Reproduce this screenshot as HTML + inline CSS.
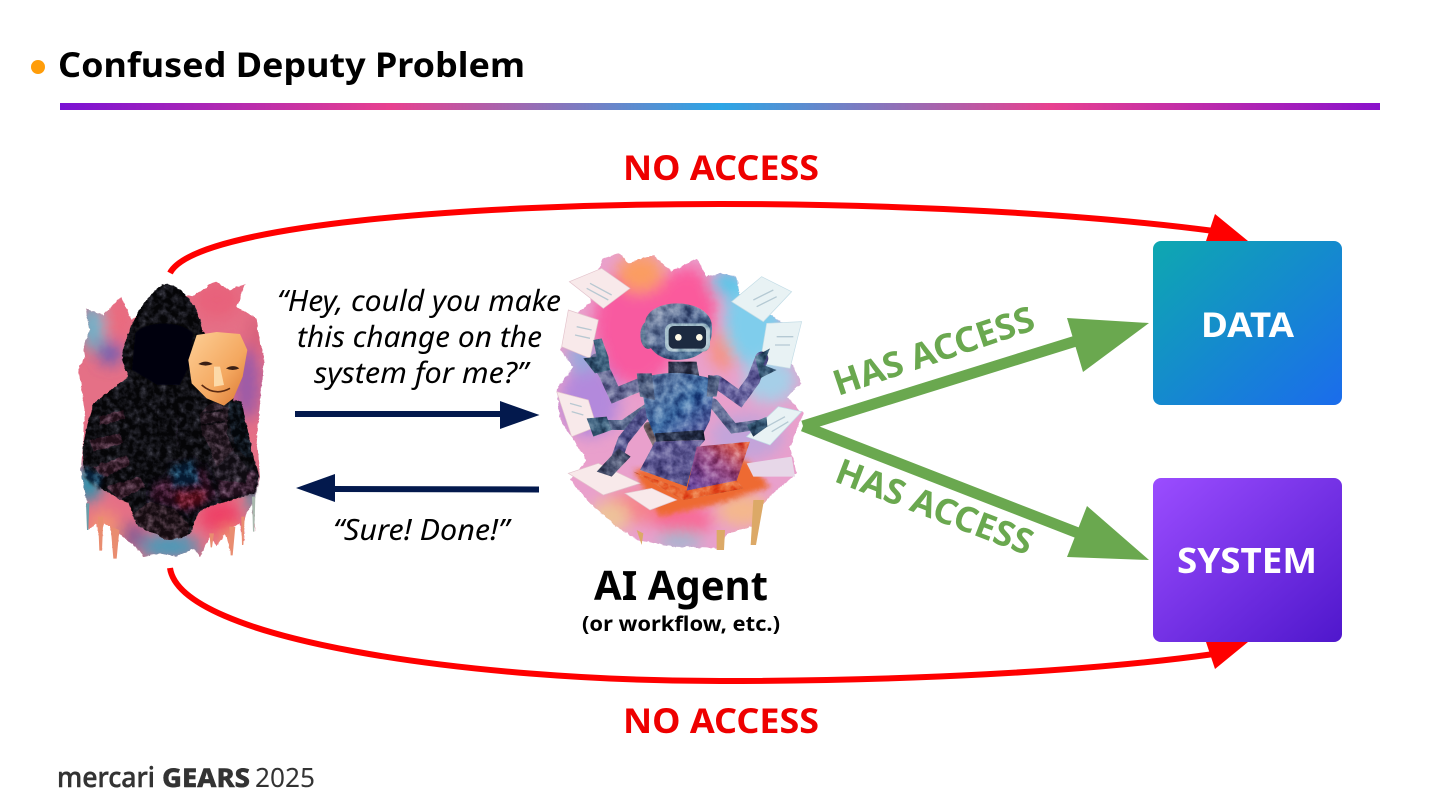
<!DOCTYPE html>
<html><head><meta charset="utf-8"><title>Confused Deputy Problem</title>
<style>
html,body{margin:0;padding:0;background:#fff;width:1440px;height:810px;overflow:hidden}
svg{display:block}
text{font-family:"Noto Sans","Noto Sans CJK JP","Liberation Sans",sans-serif}
</style></head><body>
<svg width="1440" height="810" viewBox="0 0 1440 810" xmlns="http://www.w3.org/2000/svg">
<defs>
<linearGradient id="bar" x1="0" x2="1" y1="0" y2="0">
<stop offset="0" stop-color="#7a12d4"/><stop offset=".25" stop-color="#e8408f"/><stop offset=".5" stop-color="#2ba6e6"/><stop offset=".75" stop-color="#e8408f"/><stop offset="1" stop-color="#8a12cc"/>
</linearGradient>
<linearGradient id="gd" x1="0" y1="0" x2="1" y2="1"><stop offset="0" stop-color="#0ea8b0"/><stop offset="1" stop-color="#1b6cec"/></linearGradient>
<linearGradient id="gs" x1="0" y1="0" x2="1" y2="1"><stop offset="0" stop-color="#9b4dff"/><stop offset="1" stop-color="#4f17cc"/></linearGradient>
<linearGradient id="mask" x1="0" y1="0" x2="1" y2="1"><stop offset="0" stop-color="#fdcf96"/><stop offset=".6" stop-color="#f4a860"/><stop offset="1" stop-color="#d9742f"/></linearGradient>
<linearGradient id="head" x1="0" y1="0" x2="1" y2="1"><stop offset="0" stop-color="#7d8aa4"/><stop offset=".5" stop-color="#5a6f97"/><stop offset="1" stop-color="#4a7b9c"/></linearGradient>
<linearGradient id="torso" x1="0" y1="0" x2="1" y2="1"><stop offset="0" stop-color="#6d7fa4"/><stop offset=".55" stop-color="#3f6ea6"/><stop offset="1" stop-color="#584f96"/></linearGradient>
<linearGradient id="laptop" x1="0" y1="1" x2="1" y2="0"><stop offset="0" stop-color="#6a4ea8"/><stop offset=".55" stop-color="#a04f86"/><stop offset="1" stop-color="#ee5a2e"/></linearGradient>
<filter id="rough" x="-10%" y="-10%" width="120%" height="120%"><feTurbulence type="fractalNoise" baseFrequency=".06" numOctaves="3" seed="8"/><feDisplacementMap in="SourceGraphic" scale="10" xChannelSelector="R" yChannelSelector="G"/></filter>
<filter id="b25" x="-30%" y="-30%" width="160%" height="160%"><feGaussianBlur stdDeviation="22"/></filter>
<filter id="s8" x="-30%" y="-30%" width="160%" height="160%"><feGaussianBlur stdDeviation="8"/></filter>
<filter id="s5" x="-30%" y="-30%" width="160%" height="160%"><feGaussianBlur stdDeviation="5"/></filter>
<filter id="s2" x="-30%" y="-30%" width="160%" height="160%"><feGaussianBlur stdDeviation="2"/></filter>
<filter id="mottle" x="0" y="0" width="100%" height="100%" color-interpolation-filters="sRGB">
<feTurbulence type="fractalNoise" baseFrequency=".035" numOctaves="4" seed="3"/>
<feColorMatrix type="matrix" values="1.4 0 0 0 -.2  1.4 0 0 0 -.2  1.4 0 0 0 -.2  0 0 0 0 1" result="n"/>
<feBlend in="n" in2="SourceGraphic" mode="soft-light" result="o"/>
<feComposite in="o" in2="SourceAlpha" operator="in"/>
</filter>
<filter id="mottleD" x="0" y="0" width="100%" height="100%" color-interpolation-filters="sRGB">
<feTurbulence type="fractalNoise" baseFrequency=".05" numOctaves="4" seed="3"/>
<feColorMatrix type="matrix" values="1.6 0 0 0 -.62  1.6 0 0 0 -.62  1.6 0 0 0 -.62  0 0 0 0 1" result="n"/>
<feBlend in="n" in2="SourceGraphic" mode="soft-light" result="o"/>
<feComposite in="o" in2="SourceAlpha" operator="in"/>
</filter>
<clipPath id="pClip"><path d="M75 115 L130 135 L185 80 L215 150 L320 60 L395 80 L465 35 L510 60 L555 40 L530 110 L590 145 L600 220 L612 260 L600 400 L590 520 L600 620 L582 700 L585 785 L575 700 L555 740 L550 825 L540 760 L520 770 L515 855 L495 790 L470 830 L450 800 L420 860 L400 835 L350 860 L300 850 L250 860 L225 830 L178 790 L165 865 L150 770 L130 760 L125 840 L110 760 L85 780 L80 700 L62 600 L70 520 L75 420 L55 300 L75 260 L70 230 L90 180Z"/></clipPath>
<clipPath id="rClip"><path d="M190 55 L240 40 L265 70 L340 45 L395 95 L470 55 L500 110 L540 100 L590 110 L600 170 L700 230 L740 260 L745 350 L785 430 L740 470 L790 520 L750 620 L770 700 L700 760 L670 790 L640 860 L560 880 L540 925 L400 920 L290 900 L230 860 L150 790 L90 720 L140 660 L60 540 L50 450 L100 380 L60 330 L110 220 L150 190 L170 100Z"/></clipPath>
</defs>

<!-- Header -->
<circle cx="38" cy="67" r="7" fill="#ff9d0a"/>
<text x="58" y="77" font-size="34" font-weight="700" fill="#000" textLength="467" lengthAdjust="spacingAndGlyphs">Confused Deputy Problem</text>
<rect x="60" y="103" width="1320" height="7" fill="url(#bar)"/>

<!-- Person illustration -->
<g transform="translate(60,270) scale(.33333)">
<g filter="url(#rough)"><g clip-path="url(#pClip)">
<rect x="40" y="20" width="600" height="860" fill="#e56f86"/>
<g filter="url(#b25)">
<ellipse cx="100" cy="170" rx="35" ry="70" fill="#66b5cc"/>
<ellipse cx="150" cy="250" rx="35" ry="35" fill="#6a5cb4"/>
<ellipse cx="170" cy="150" rx="40" ry="60" fill="#ea6a7e"/>
<ellipse cx="470" cy="90" rx="70" ry="55" fill="#e8627a"/>
<ellipse cx="560" cy="340" rx="40" ry="110" fill="#9a5aa8"/>
<ellipse cx="590" cy="200" rx="25" ry="60" fill="#d6607a"/>
<ellipse cx="85" cy="640" rx="40" ry="60" fill="#2f93ad"/>
<ellipse cx="130" cy="790" rx="50" ry="70" fill="#f19272"/>
<ellipse cx="220" cy="800" rx="40" ry="40" fill="#8a5a92"/>
<ellipse cx="330" cy="830" rx="90" ry="40" fill="#4c9ab8"/>
<ellipse cx="480" cy="740" rx="60" ry="50" fill="#ee3f66"/>
<ellipse cx="510" cy="820" rx="30" ry="50" fill="#ee9a70"/>
<ellipse cx="580" cy="680" rx="20" ry="70" fill="#4d94a8"/>
</g>
</g></g>
<g fill="#e98d70">
<path d="M114 740 L130 740 L126 842 L118 842Z M152 770 L178 780 L170 866 L160 866Z M508 770 L526 770 L518 856 L512 856Z M544 740 L554 740 L550 825 L546 825Z M448 790 L462 790 L456 832 L452 832Z"/></g>
<path d="M78 700 L88 700 L85 780 L81 780Z" fill="#6a9ca8"/><path d="M576 680 L586 680 L583 785 L579 785Z" fill="#a9b9ae"/>
<g filter="url(#mottleD)">
<g filter="url(#rough)">
<path d="M320 40 C 370 50 415 110 428 180 L470 240 L520 390 L545 395 L580 560 L598 620 L585 670 L480 700 L420 720 L390 790 L320 808 L235 770 L205 700 L130 660 L72 600 L68 540 L78 480 L100 400 L180 340 L205 320 L185 270 C 195 180 260 60 320 40Z" fill="#22202c"/>
<path d="M90 510 L180 490 L190 520 L100 545Z M100 590 L200 555 L210 585 L125 625Z M140 650 L240 620 L255 650 L180 690Z M120 440 L190 420 L195 445 L120 465Z" fill="#5a3b4e"/>
<path d="M280 640 L430 590 L470 680 L390 730 L270 690Z" fill="#5c2f4e" filter="url(#s8)"/>
<path d="M330 590 L400 570 L420 640 L340 650Z" fill="#24506e" filter="url(#s8)"/>
<path d="M340 670 L440 660 L430 700 L360 715Z" fill="#8a2f44" filter="url(#s8)"/>
<path d="M70 590 L130 620 L120 660 L72 620Z" fill="#2b5a78" filter="url(#s5)"/>
<path d="M470 620 L590 600 L585 670 L480 690Z" fill="#5a3a52" filter="url(#s5)"/>
<path d="M215 735 L270 695 L350 720 L390 770 L380 800 L320 810 L240 770Z" fill="#4a3540"/>
<path d="M505 395 L545 398 L578 570 L530 540 L510 470Z" fill="#1e2532"/>
<path d="M445 570 L510 530 L560 590 L560 640 L470 630Z" fill="#3d3642"/>
<path d="M420 430 L460 395 L505 415 L500 490 L520 540 L470 590 L445 520 L425 490Z" fill="#4e3a48"/>
<path d="M430 430 L490 420 M425 465 L495 455" stroke="#241d28" stroke-width="6" fill="none"/>
<path d="M290 410 L293 500 M355 420 L355 530" stroke="#14121a" stroke-width="5" fill="none"/>
</g></g>
<path d="M225 190 C 250 150 370 150 400 190 L388 290 L360 345 L290 345 L215 300Z" fill="#050407" filter="url(#s2)"/>
<path d="M410 195 L470 186 L540 192 L562 240 L548 320 L520 385 L492 407 L440 385 L395 340 L385 270Z" fill="url(#mask)"/>
<path d="M462 290 L480 290 L492 345 L462 350Z" fill="#fcd9a8"/>
<path d="M415 282 Q437 268 458 282 Q437 292 415 282Z M498 295 Q520 282 538 295 Q518 305 498 295Z" fill="#3a1f14"/>
<path d="M425 345 Q465 380 510 355" stroke="#5b2a12" stroke-width="5" fill="none"/>
</g>

<!-- Robot illustration -->
<g transform="translate(540,240) scale(.33333)">
<g filter="url(#rough)"><g clip-path="url(#rClip)">
<rect x="30" y="20" width="780" height="920" fill="#e9a0cc"/>
<g filter="url(#b25)">
<ellipse cx="290" cy="260" rx="130" ry="180" fill="#f85aa0"/>
<ellipse cx="440" cy="200" rx="90" ry="120" fill="#fb5a9c"/>
<ellipse cx="300" cy="100" rx="70" ry="60" fill="#fb9d62"/>
<ellipse cx="550" cy="330" rx="40" ry="60" fill="#f8907c"/>
<ellipse cx="640" cy="240" rx="90" ry="140" fill="#7fcdec"/>
<ellipse cx="560" cy="130" rx="50" ry="40" fill="#5cc6e8"/>
<ellipse cx="690" cy="420" rx="80" ry="70" fill="#a6cfe8"/>
<ellipse cx="150" cy="480" rx="90" ry="110" fill="#b389dc"/>
<ellipse cx="130" cy="350" rx="50" ry="50" fill="#98a8dc"/>
<ellipse cx="620" cy="590" rx="110" ry="70" fill="#c3a4da"/>
<ellipse cx="300" cy="800" rx="120" ry="50" fill="#f5828e"/>
<ellipse cx="430" cy="840" rx="90" ry="50" fill="#f86a98"/>
<ellipse cx="210" cy="830" rx="60" ry="50" fill="#eec39a"/>
<ellipse cx="610" cy="810" rx="80" ry="50" fill="#f4b88c"/>
<ellipse cx="420" cy="900" rx="70" ry="25" fill="#96bcd4"/>
</g>
<path d="M280 690 L620 660 L690 740 L540 790 L360 830Z" fill="#ee6a30" filter="url(#s8)"/>
</g></g>
<g fill="#dca967">
<path d="M640 780 L672 780 L648 915 L632 915Z"/><path d="M530 870 L555 870 L552 930 L530 930Z"/><path d="M290 870 L310 880 L305 915Z"/></g>
<!-- papers -->
<g fill="#f8e9ea" stroke="#e3c3cc" stroke-width="2">
<path d="M88 125 L185 85 L270 145 L190 205Z"/>
<path d="M85 210 L175 240 L150 355 L65 320Z"/>
<path d="M50 455 L145 480 L170 560 L95 590Z"/>
<path d="M85 700 L175 670 L300 730 L190 765Z"/>
<path d="M255 760 L335 745 L410 780 L330 810Z"/>
</g>
<g fill="#e8f2f4" stroke="#c2dce6" stroke-width="2">
<path d="M575 185 L665 110 L755 155 L670 245Z"/>
<path d="M680 250 L785 245 L750 385 L660 370Z"/>
<path d="M620 590 L715 500 L785 515 L690 615Z"/>
<path d="M620 670 L755 650 L765 710 L640 710Z" fill="#e7d7e8" stroke="none"/>
</g>
<g stroke="#a9c0cc" stroke-width="4" opacity=".8">
<path d="M150 130 L215 165 M140 145 L205 180"/><path d="M110 260 L155 270 M105 285 L150 295"/><path d="M640 180 L700 150 M650 200 L710 170"/><path d="M710 290 L760 290 M705 315 L750 315"/><path d="M680 560 L735 530 M695 575 L745 545"/><path d="M90 490 L125 500 M95 515 L130 525"/></g>
<!-- robot -->
<g filter="url(#mottle)">
<g>
<g stroke-linecap="round" fill="none">
<path d="M170 360 L195 400 L225 465 L310 430" stroke="#6a6e98" stroke-width="40"/>
<path d="M665 355 L640 420 L600 475 L530 425" stroke="#64609c" stroke-width="40"/>
<path d="M175 555 L250 555 L330 500" stroke="#5c6c90" stroke-width="30"/>
<path d="M650 555 L580 565 L520 490" stroke="#5f6a94" stroke-width="30"/>
<path d="M225 670 L250 600 L315 520" stroke="#54548e" stroke-width="34"/>
<path d="M395 680 L350 610 L325 560" stroke="#7a6a70" stroke-width="28"/>
</g>
<path d="M130 355 L170 350 L160 300 L185 295 L205 350 L210 390 L165 400Z M140 535 L200 530 L215 570 L160 590Z M645 350 L690 325 L670 375 L710 390 L660 415Z M620 555 L680 530 L682 560 L640 590Z" fill="#3c5f7c"/>
<path d="M170 695 L235 625 L272 650 L215 710Z M350 645 L420 660 L428 715 L385 710Z" fill="#48506e"/>
<path d="M385 365 L470 365 L478 410 L385 410Z" fill="#2a3048"/>
<path d="M300 415 Q 410 380 525 420 L510 540 L485 590 L345 590 L320 530Z" fill="url(#torso)"/>
<path d="M290 400 L335 400 L345 480 L300 470Z M505 405 L540 410 L530 470 L500 470Z" fill="#4a5a7c"/>
<path d="M345 580 L490 570 L495 600 L348 605Z" fill="#26304a"/>
<path d="M345 605 L495 600 L470 630 L440 740 L300 690Z" fill="#5d5893"/>
<ellipse cx="325" cy="285" rx="24" ry="42" fill="#5f7a96"/>
<path d="M315 250 C 320 170 500 170 515 250 C 525 330 470 360 410 360 C 350 360 310 320 315 250Z" fill="url(#head)"/>
<rect x="375" y="250" width="135" height="85" rx="22" fill="#a2bcc9"/>
<path d="M470 620 L630 605 L590 722 L440 752Z" fill="url(#laptop)"/>
<path d="M280 695 L440 752 L590 722 L610 745 L430 780 Z" fill="#e8602c"/>
</g></g>
<rect x="386" y="258" width="112" height="68" rx="16" fill="#1c2a40"/>
<circle cx="415" cy="292" r="10" fill="#fffbe8"/><circle cx="478" cy="292" r="10" fill="#fffbe8"/>
</g>

<!-- Top red arc -->
<path d="M170 273 C 195 225 470 204 720 204 C 900 204 1085 214 1214 231" fill="none" stroke="#ff0000" stroke-width="6"/>
<path d="M1215 214 L1248 241 L1206 241Z" fill="#ff0000"/>
<!-- Bottom red arc -->
<path d="M170 568 C 180 640 470 681 720 681 C 900 681 1085 672 1214 654" fill="none" stroke="#ff0000" stroke-width="6"/>
<path d="M1215 669 L1248 642 L1206 642Z" fill="#ff0000"/>
<text x="623" y="180" font-size="34" font-weight="700" fill="#ee0000" textLength="196" lengthAdjust="spacingAndGlyphs">NO ACCESS</text>
<text x="623" y="733" font-size="34" font-weight="700" fill="#ee0000" textLength="196" lengthAdjust="spacingAndGlyphs">NO ACCESS</text>

<!-- Speech -->
<g font-size="29" font-style="italic" fill="#000">
<text x="277" y="311" textLength="284" lengthAdjust="spacingAndGlyphs">“Hey, could you make</text>
<text x="297" y="347" textLength="245" lengthAdjust="spacingAndGlyphs">this change on the</text>
<text x="314" y="383" textLength="214" lengthAdjust="spacingAndGlyphs">system for me?”</text>
<text x="333" y="540" textLength="176" lengthAdjust="spacingAndGlyphs">“Sure! Done!”</text>
</g>

<!-- Navy arrows -->
<rect x="295" y="411" width="207" height="6" fill="#03194d"/>
<path d="M500 401 L539.5 415 L500 429Z" fill="#03194d"/>
<path d="M335 486 L539 486.5 L539 492.5 L335 492Z" fill="#03194d"/>
<path d="M296 488 L335 474 L335 502Z" fill="#03194d"/>

<!-- AI Agent -->
<text x="594" y="600" font-size="40" font-weight="700" fill="#000" textLength="174" lengthAdjust="spacingAndGlyphs">AI Agent</text>
<text x="582" y="631" font-size="21" font-weight="700" fill="#000" textLength="198" lengthAdjust="spacingAndGlyphs">(or workflow, etc.)</text>

<!-- Green arrows -->
<path d="M803 426 L1076 341" stroke="#6aa84f" stroke-width="11" fill="none"/>
<path d="M803 426 L1078 533" stroke="#6aa84f" stroke-width="11" fill="none"/>
<path d="M809 422 L803 427 L810 431Z" fill="#6aa84f"/>
<path d="M1067 318 L1149 323 L1083 372Z" fill="#6aa84f"/>
<path d="M1087 506 L1149 560 L1067 557Z" fill="#6aa84f"/>
<text font-size="35" font-weight="700" fill="#6aa84f" transform="translate(838,396) rotate(-18.6)" textLength="210" lengthAdjust="spacingAndGlyphs">HAS ACCESS</text>
<text font-size="35" font-weight="700" fill="#6aa84f" transform="translate(833,481) rotate(21)" textLength="208" lengthAdjust="spacingAndGlyphs">HAS ACCESS</text>

<!-- Boxes -->
<rect x="1153" y="241" width="189" height="164" rx="8" fill="url(#gd)"/>
<text x="1201" y="337" font-size="34" font-weight="700" fill="#fff" textLength="93" lengthAdjust="spacingAndGlyphs">DATA</text>
<rect x="1153" y="478" width="189" height="164" rx="8" fill="url(#gs)"/>
<text x="1177" y="573" font-size="35" font-weight="700" fill="#fff" textLength="140" lengthAdjust="spacingAndGlyphs">SYSTEM</text>

<!-- Footer logo -->
<text x="57" y="787" font-size="28" font-weight="500" stroke="#333" stroke-width=".5" fill="#333" textLength="98" lengthAdjust="spacingAndGlyphs">mercari</text>
<text x="162" y="787" font-size="26" font-weight="800" stroke="#333" stroke-width=".4" fill="#333" textLength="88" lengthAdjust="spacingAndGlyphs">GEARS</text>
<text x="255" y="787" font-size="26" font-weight="400" fill="#333" textLength="60" lengthAdjust="spacingAndGlyphs">2025</text>
</svg>
</body></html>
